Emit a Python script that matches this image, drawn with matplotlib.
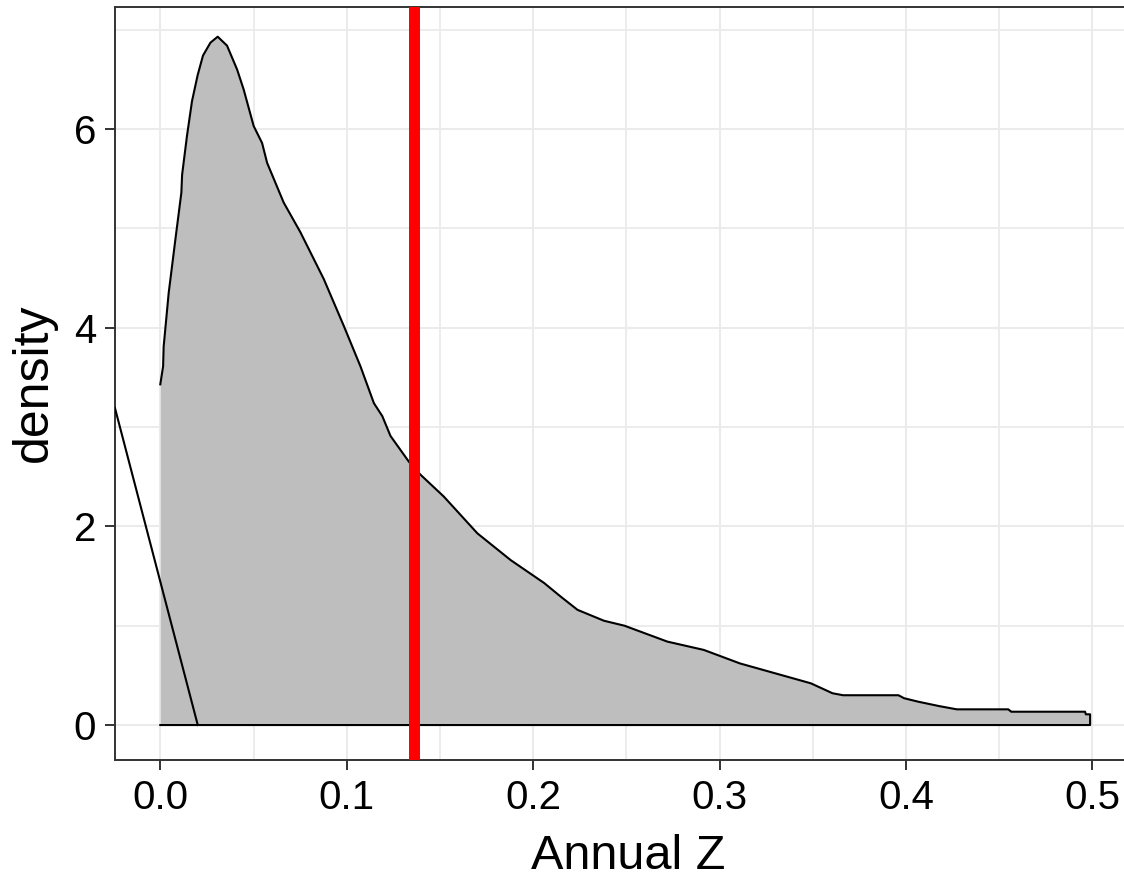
import numpy as np
import matplotlib
matplotlib.use("Agg")
from matplotlib import pyplot as plt
from matplotlib.ticker import MultipleLocator

plt.rcParams['font.family'] = ['Liberation Sans', 'DejaVu Sans']

# density curve
curve_x = [0.0, 0.0015, 0.0018, 0.0045, 0.0081, 0.0113, 0.0117, 0.0143, 0.0170, 0.0200,
           0.0229, 0.0269, 0.0308, 0.0358, 0.0412, 0.0447, 0.0501, 0.0546, 0.0573, 0.0662,
           0.0752, 0.0877, 0.0984, 0.1074, 0.1146, 0.1191, 0.1235, 0.1334, 0.1396, 0.1521,
           0.1701, 0.1880, 0.2059, 0.2150, 0.2238, 0.2380, 0.2490, 0.2720, 0.2916, 0.3110,
           0.3300, 0.3490, 0.3606, 0.3663, 0.3960, 0.3990, 0.4066, 0.4180, 0.4273, 0.4549,
           0.4565, 0.4961, 0.4965, 0.4988]
curve_y = [3.43, 3.61, 3.81, 4.35, 4.89, 5.36, 5.54, 5.93, 6.28, 6.54,
           6.74, 6.87, 6.93, 6.84, 6.60, 6.40, 6.03, 5.86, 5.66, 5.26,
           4.96, 4.49, 4.02, 3.61, 3.24, 3.11, 2.91, 2.65, 2.52, 2.30,
           1.93, 1.66, 1.43, 1.29, 1.16, 1.05, 1.00, 0.84, 0.756, 0.62,
           0.52, 0.42, 0.32, 0.30, 0.30, 0.27, 0.235, 0.19, 0.158, 0.158,
           0.134, 0.134, 0.108, 0.108]

# stray line in the lower left corner
diag_x = [-0.0243, 0.0201]
diag_y = [3.19, 0.0]

observed_z = 0.136

x_ticks = [0.0, 0.1, 0.2, 0.3, 0.4, 0.5]
y_ticks = [0, 2, 4, 6]

fig = plt.figure(figsize=(11.24, 8.8), dpi=100)
ax = fig.add_axes([115 / 1124, 120 / 880, 1026 / 1124, 753.3 / 880])

ax.fill_between(curve_x, curve_y, 0, color='#BEBEBE', linewidth=0, zorder=2)
outline_x = curve_x + [curve_x[-1], curve_x[0]]
outline_y = curve_y + [0, 0]
ax.plot(outline_x, outline_y, color='black', linewidth=1.5, zorder=3)
ax.plot(diag_x, diag_y, color='black', linewidth=1.5, zorder=3)
ax.axvline(observed_z, color='#FF0000', linewidth=7.9, zorder=4)

ax.set_xlim(-0.0243, 0.5261)
ax.set_ylim(-0.352, 7.232)
ax.set_xticks(x_ticks)
ax.set_yticks(y_ticks)
ax.set_xticklabels([f"{t:.1f}" for t in x_ticks])
ax.set_yticklabels([str(t) for t in y_ticks])
ax.xaxis.set_minor_locator(MultipleLocator(0.05))
ax.yaxis.set_minor_locator(MultipleLocator(1))

ax.grid(True, which='major', color='#EBEBEB', linewidth=1.5, zorder=0)
ax.grid(True, which='minor', color='#EBEBEB', linewidth=1.3, zorder=0)
ax.set_axisbelow(True)

ax.tick_params(which='major', length=7.5, width=1.4, color='#333333',
               labelsize=29, labelcolor='black', pad=6)
ax.tick_params(which='minor', length=0)
for s in ax.spines.values():
    s.set_color('#333333')
    s.set_linewidth(1.4)

fig.text(628 / 1124, 1 - 869 / 880, "Annual Z", fontsize=35, ha='center', va='baseline')
fig.text(34 / 1124, 1 - 382.5 / 880, "density", fontsize=36, rotation=90,
         ha='center', va='center')

fig.savefig("out.png", dpi=100)
